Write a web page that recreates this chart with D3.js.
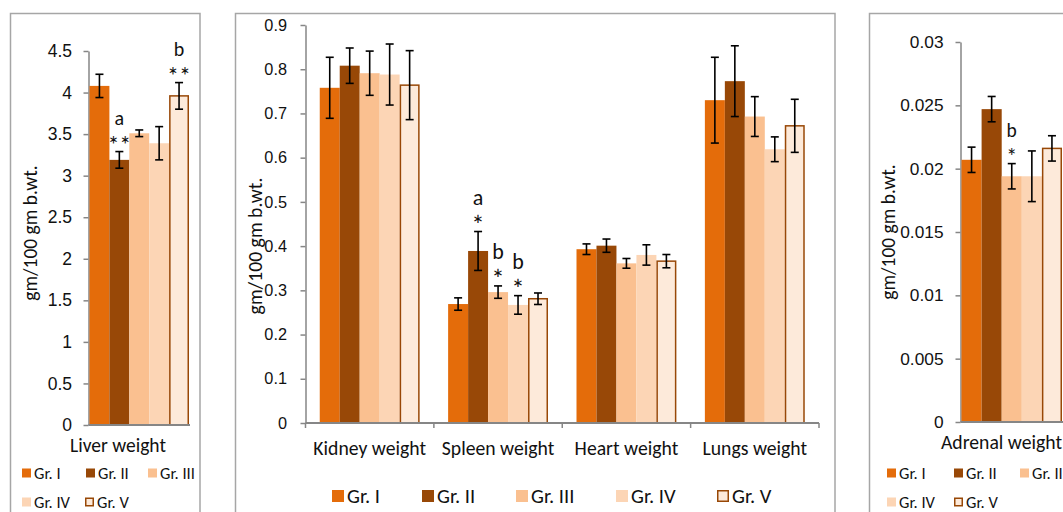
<!DOCTYPE html>
<html>
<head>
<meta charset="utf-8">
<script src="https://cdn.jsdelivr.net/npm/d3@7"></script>
<style>
  body { margin: 0; background: #fff; }
  svg { display: block; font-family: Carlito, Calibri, Lato, sans-serif; }
</style>
</head>
<body>
<svg id="chart" width="1063" height="512"></svg>
<script>
// groups and colours
const groups = ['Gr. I', 'Gr. II', 'Gr. III', 'Gr. IV', 'Gr. V'];
const fills = ['#e46c0a', '#984807', '#fac090', '#fcd5b5', '#fdeada'];

// liver
const liverCats = ['Liver weight'];
const liverMean = [[4.08, 3.19, 3.51, 3.39, 3.96]];
const liverErr = [[0.14, 0.10, 0.04, 0.20, 0.16]];
const liverLetter = [['', 'a', '', '', 'b']];
const liverStar = [['', '**', '', '', '**']];
const liverTicks = [0, 0.5, 1, 1.5, 2, 2.5, 3, 3.5, 4, 4.5];

// kidney, spleen, heart, lungs
const organCats = ['Kidney weight', 'Spleen weight', 'Heart weight', 'Lungs weight'];
const organMean = [
  [0.758, 0.808, 0.791, 0.788, 0.764],
  [0.269, 0.389, 0.296, 0.267, 0.281],
  [0.393, 0.401, 0.361, 0.380, 0.366],
  [0.730, 0.773, 0.693, 0.619, 0.672]
];
const organErr = [
  [0.069, 0.040, 0.050, 0.069, 0.078],
  [0.014, 0.044, 0.014, 0.021, 0.013],
  [0.012, 0.015, 0.011, 0.023, 0.015],
  [0.097, 0.080, 0.045, 0.028, 0.060]
];
const organLetter = [['', '', '', '', ''], ['', 'a', 'b', 'b', ''], ['', '', '', '', ''], ['', '', '', '', '']];
const organStar = [['', '', '', '', ''], ['', '*', '*', '*', ''], ['', '', '', '', ''], ['', '', '', '', '']];
const organTicks = [0, 0.1, 0.2, 0.3, 0.4, 0.5, 0.6, 0.7, 0.8, 0.9];

// adrenal
const adrenalCats = ['Adrenal weight'];
const adrenalMean = [[0.0207, 0.0247, 0.0194, 0.0194, 0.0216]];
const adrenalErr = [[0.0010, 0.0010, 0.0010, 0.0020, 0.0010]];
const adrenalLetter = [['', '', 'b', '', '']];
const adrenalStar = [['', '', '*', '', '']];
const adrenalTicks = [0, 0.005, 0.01, 0.015, 0.02, 0.025, 0.03];

const svg = d3.select('#chart');
const axisGrey = '#868686';
const ink = '#111';
const fmt = d => String(+d.toFixed(4));

function drawPanel(p) {
  const g = svg.append('g');

  // frame
  g.append('rect')
    .attr('x', p.frame[0]).attr('y', p.frame[1])
    .attr('width', p.frame[2]).attr('height', p.frame[3])
    .attr('fill', 'none').attr('stroke', '#a6a6a6').attr('stroke-width', 1.5);

  const x = d3.scaleBand().domain(p.cats).range([p.x0, p.x1])
    .paddingInner(p.padIn).paddingOuter(p.padOut);
  const xi = d3.scaleBand().domain(groups).range([0, x.bandwidth()]);
  const y = d3.scaleLinear().domain([0, p.ticks[p.ticks.length - 1]]).range([p.yBase, p.yTop]);

  // y axis
  const ya = g.append('g')
    .attr('transform', `translate(${p.x0},0)`)
    .call(d3.axisLeft(y).tickValues(p.ticks).tickFormat(fmt)
      .tickSize(5).tickSizeOuter(0).tickPadding(p.tickPad));
  ya.select('.domain').attr('stroke', axisGrey).attr('stroke-width', 1.5);
  ya.selectAll('.tick line').attr('stroke', axisGrey).attr('stroke-width', 1.5);
  ya.selectAll('.tick text').attr('fill', ink)
    .style('font-size', p.tickFont + 'px').style('font-family', 'inherit');

  // y title
  g.append('text')
    .attr('transform', `translate(${p.titleX},${p.titleY}) rotate(-90)`)
    .attr('text-anchor', 'middle').attr('dominant-baseline', 'central')
    .style('font-size', p.titleFont + 'px').attr('fill', ink)
    .text('gm/100 gm b.wt.');

  // bars
  const cat = g.selectAll('.cat').data(p.cats).join('g')
    .attr('transform', c => `translate(${x(c)},0)`);

  cat.each(function (c, ci) {
    const cg = d3.select(this);
    const rows = groups.map((gr, gi) => ({
      gr, gi, m: p.mean[ci][gi], e: p.err[ci][gi],
      letter: p.letter[ci][gi], star: p.star[ci][gi]
    }));

    cg.selectAll('rect').data(rows).join('rect')
      .attr('x', d => xi(d.gr) + (d.gi === 4 ? 0.75 : 0))
      .attr('y', d => y(d.m))
      .attr('width', d => xi.bandwidth() - (d.gi === 4 ? 1.5 : 0))
      .attr('height', d => y(0) - y(d.m))
      .attr('fill', d => fills[d.gi])
      .attr('stroke', d => d.gi === 4 ? '#984807' : 'none')
      .attr('stroke-width', 1.5);

    const eb = cg.selectAll('.err').data(rows).join('g')
      .attr('transform', d => `translate(${xi(d.gr) + xi.bandwidth() / 2},0)`)
      .attr('stroke', '#000').attr('stroke-width', 1.6);
    eb.append('line').attr('y1', d => y(d.m + d.e)).attr('y2', d => y(d.m - d.e));
    eb.append('line').attr('x1', -4).attr('x2', 4)
      .attr('y1', d => y(d.m + d.e)).attr('y2', d => y(d.m + d.e));
    eb.append('line').attr('x1', -4).attr('x2', 4)
      .attr('y1', d => y(d.m - d.e)).attr('y2', d => y(d.m - d.e));

    // significance marks above the error bar
    const marked = rows.filter(d => d.star);
    cg.selectAll('.star').data(marked).join('text')
      .attr('x', d => xi(d.gr) + xi.bandwidth() / 2)
      .attr('y', d => y(d.m + d.e) - 11 + 0.5 * p.starFont)
      .attr('text-anchor', 'middle').attr('fill', ink)
      .style('font-size', p.starFont + 'px')
      .text(d => d.star);
    cg.selectAll('.letter').data(marked).join('text')
      .attr('x', d => xi(d.gr) + xi.bandwidth() / 2)
      .attr('y', d => y(d.m + d.e) - 27)
      .attr('text-anchor', 'middle').attr('fill', ink)
      .style('font-size', p.letterFont + 'px')
      .text(d => d.letter);
  });

  // x axis
  g.append('line')
    .attr('x1', p.x0).attr('x2', p.x1).attr('y1', y(0)).attr('y2', y(0))
    .attr('stroke', axisGrey).attr('stroke-width', 2);
  if (p.xTicks) {
    const edges = p.cats.map(c => x(c) - x.step() * x.paddingInner() / 2).concat([p.x1]);
    g.selectAll('.xt').data(edges).join('line')
      .attr('x1', d => d).attr('x2', d => d)
      .attr('y1', y(0)).attr('y2', y(0) + 5)
      .attr('stroke', axisGrey).attr('stroke-width', 1.5);
  }

  // category labels
  g.selectAll('.catlab').data(p.cats).join('text')
    .attr('x', (c, i) => p.catX ? p.catX[i] : x(c) + x.bandwidth() / 2)
    .attr('y', p.catY)
    .attr('text-anchor', 'middle').attr('fill', ink)
    .style('font-size', p.catFont + 'px')
    .text(c => c);

  // legend
  const lg = g.selectAll('.leg').data(groups).join('g')
    .attr('transform', (d, i) => `translate(${p.legPos[i][0]},${p.legPos[i][1]})`);
  lg.append('rect')
    .attr('x', d => d === 'Gr. V' ? 0.75 : 0)
    .attr('y', d => -p.legBox / 2 + (d === 'Gr. V' ? 0.75 : 0))
    .attr('width', d => p.legBox - (d === 'Gr. V' ? 1.5 : 0))
    .attr('height', d => p.legBox - (d === 'Gr. V' ? 1.5 : 0))
    .attr('fill', (d, i) => fills[i])
    .attr('stroke', d => d === 'Gr. V' ? '#984807' : 'none').attr('stroke-width', 1.5);
  lg.append('text')
    .attr('x', p.legBox + 3).attr('y', 0)
    .attr('dominant-baseline', 'central').attr('fill', ink)
    .style('font-size', p.legFont + 'px')
    .text(d => d);
}

drawPanel({
  frame: [10.5, 13.5, 189.5, 520],
  cats: liverCats, mean: liverMean, err: liverErr, letter: liverLetter, star: liverStar,
  ticks: liverTicks,
  x0: 88.5, x1: 190, padIn: 0, padOut: 0.01, yBase: 425, yTop: 51,
  tickPad: 11.5, tickFont: 17.5, titleX: 30, titleY: 233, titleFont: 19.5,
  starFont: 24, letterFont: 20,
  catY: 452, catFont: 19.5, catX: [118],
  legBox: 9, legFont: 16.5,
  legPos: [[22, 473], [86, 473], [148, 473], [22, 502], [85, 502]]
});

drawPanel({
  frame: [235.5, 13.5, 599.5, 520],
  cats: organCats, mean: organMean, err: organErr, letter: organLetter, star: organStar,
  ticks: organTicks,
  x0: 305.5, x1: 819, padIn: 0.222, padOut: 0.111, yBase: 423, yTop: 25,
  tickPad: 13.5, tickFont: 16.3, titleX: 255, titleY: 246, titleFont: 19.7,
  starFont: 27, letterFont: 22,
  catY: 455, catFont: 19.7, xTicks: true,
  legBox: 12, legFont: 20.5,
  legPos: [[332, 496], [422, 496], [516, 496], [616, 496], [717, 496]]
});

drawPanel({
  frame: [869.5, 13.5, 300, 520],
  cats: adrenalCats, mean: adrenalMean, err: adrenalErr, letter: adrenalLetter, star: adrenalStar,
  ticks: adrenalTicks,
  x0: 960.5, x1: 1063, padIn: 0, padOut: 0.01, yBase: 422, yTop: 42,
  tickPad: 12, tickFont: 17.3, titleX: 888, titleY: 232, titleFont: 19.5,
  starFont: 22, letterFont: 19.5,
  catY: 449, catFont: 19.7, catX: [1001.5],
  legBox: 9, legFont: 16.5,
  legPos: [[887, 473], [954, 473], [1020, 473], [887, 502], [954, 502]]
});
</script>
</body>
</html>
